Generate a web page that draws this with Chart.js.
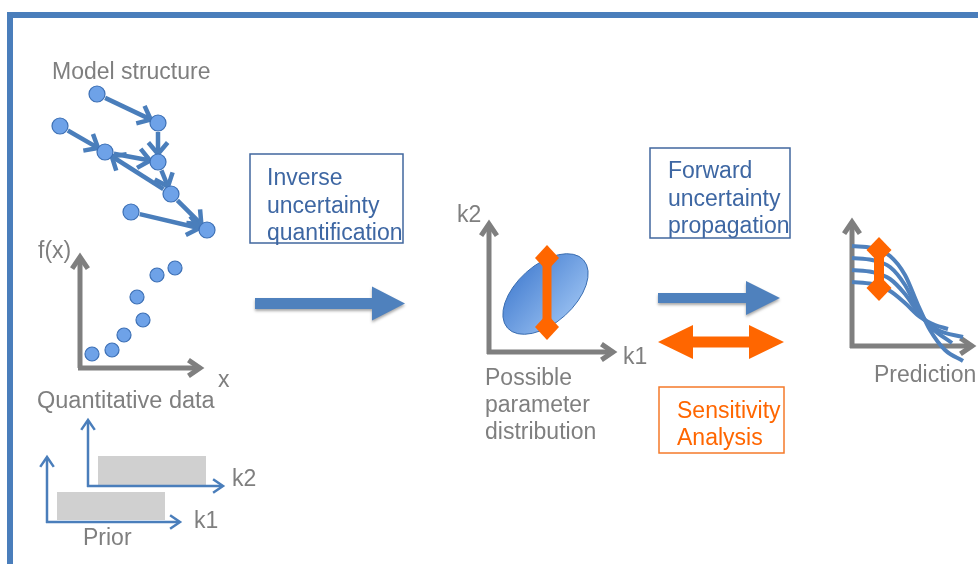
<!DOCTYPE html>
<html>
<head>
<meta charset="utf-8">
<script src="https://cdn.jsdelivr.net/npm/chart.js@4.4.1/dist/chart.umd.min.js"></script>
<style>
  body { margin: 0; background: #fff; }
  canvas { display: block; }
</style>
</head>
<body>
<canvas id="diagrama" width="978" height="564"></canvas>
<script>
// Dados quantitativos (unidades locais do painel f(x) vs x)
const dadosX = [1.2, 3.2, 4.4, 6.3, 5.7, 7.7, 9.5];
const dadosF = [1.4, 1.8, 3.3, 4.8, 7.1, 9.3, 10.0];

// Estrutura do modelo: nós e ligações (origem -> destino)
const nosX = [97, 158, 60, 105, 158, 171, 131, 207];
const nosY = [94, 123, 126, 152, 162, 194, 212, 230];
const ligacoes = [[0, 1], [1, 4], [2, 3], [3, 4], [4, 5], [5, 3], [5, 7], [6, 7]];

// Curvas de predição (unidades locais)
const predX = [
    [0, 2.0, 3.8, 5.3, 6.6, 7.8, 9.3, 11.1],
    [0, 2.0, 3.8, 5.3, 6.6, 8.0, 10.0],
    [0, 2.0, 3.8, 5.3, 6.8, 8.6, 11.1],
    [0, 2.0, 3.8, 5.3, 6.8, 8.3, 9.6]
];
const predY = [
    [10.0, 9.8, 9.0, 7.1, 4.1, 1.6, -0.4, -1.5],
    [8.8, 8.6, 7.9, 6.1, 3.6, 1.8, 0.3],
    [7.6, 7.4, 6.7, 5.2, 3.1, 1.6, 0.9],
    [6.4, 6.2, 5.5, 4.3, 2.9, 2.1, 1.7]
];

// Quadros dos painéis (origem em px do diagrama, 1 unidade = 10 px)
const quadroDados = { x0: 80, y0: 368, s: 10 };
const quadroPred = { x0: 852, y0: 346, s: 10 };

const paraDiagrama = (q, xs, ys) => xs.map((v, i) => ({ x: q.x0 + v * q.s, y: q.y0 - ys[i] * q.s }));

const AZUL = '#4f81bd';
const AZUL_TXT = '#3e67a3';
const CINZA = '#7f7f7f';
const LARANJA = '#ff6600';
const FONTE = '"Liberation Sans", Arial, sans-serif';

const pontosDados = paraDiagrama(quadroDados, dadosX, dadosF);
const pontosNos = nosX.map((x, i) => ({ x: x, y: nosY[i] }));

const datasets = [
    {
        label: 'Dados',
        data: pontosDados,
        pointRadius: 7,
        pointBackgroundColor: '#6ea2e8',
        pointBorderColor: '#3d70b5',
        pointBorderWidth: 1.2,
        showLine: false
    },
    {
        label: 'Nós',
        data: pontosNos,
        pointRadius: 8,
        pointBackgroundColor: '#6ea2e8',
        pointBorderColor: '#3d70b5',
        pointBorderWidth: 1.2,
        showLine: false
    }
];
predX.forEach((xs, i) => {
    datasets.push({
        label: 'Predição ' + (i + 1),
        data: paraDiagrama(quadroPred, xs, predY[i]),
        showLine: true,
        borderColor: AZUL,
        borderWidth: 4,
        pointRadius: 0,
        cubicInterpolationMode: 'monotone',
        fill: false
    });
});

// Funções auxiliares de desenho
const linhaSeta = (ctx, x1, y1, x2, y2, cor, larg, cab, abre = 0.6) => {
    const ang = Math.atan2(y2 - y1, x2 - x1);
    ctx.save();
    ctx.strokeStyle = cor;
    ctx.lineWidth = larg;
    ctx.lineCap = 'butt';
    ctx.lineJoin = 'miter';
    ctx.beginPath();
    ctx.moveTo(x1, y1);
    ctx.lineTo(x2 - Math.cos(ang) * larg * 0.6, y2 - Math.sin(ang) * larg * 0.6);
    ctx.stroke();
    ctx.beginPath();
    ctx.moveTo(x2 - cab * Math.cos(ang - abre), y2 - cab * Math.sin(ang - abre));
    ctx.lineTo(x2, y2);
    ctx.lineTo(x2 - cab * Math.cos(ang + abre), y2 - cab * Math.sin(ang + abre));
    ctx.stroke();
    ctx.restore();
};

const setaCheia = (ctx, x1, y1, x2, y2, cor, larg, cab) => {
    // seta de bloco com ponta triangular (seguindo o eixo x)
    ctx.save();
    ctx.fillStyle = cor;
    ctx.shadowColor = 'rgba(0,0,0,0.35)';
    ctx.shadowBlur = 3;
    ctx.shadowOffsetY = 2;
    const yc = (y1 + y2) / 2;
    ctx.beginPath();
    ctx.moveTo(x1, yc - larg / 2);
    ctx.lineTo(x2 - cab.comp, yc - larg / 2);
    ctx.lineTo(x2 - cab.comp, yc - cab.meia);
    ctx.lineTo(x2, yc);
    ctx.lineTo(x2 - cab.comp, yc + cab.meia);
    ctx.lineTo(x2 - cab.comp, yc + larg / 2);
    ctx.lineTo(x1, yc + larg / 2);
    ctx.closePath();
    ctx.fill();
    ctx.restore();
};

const setaDupla = (ctx, x1, x2, yc, cor, larg, cab) => {
    ctx.save();
    ctx.fillStyle = cor;
    ctx.beginPath();
    ctx.moveTo(x1, yc);
    ctx.lineTo(x1 + cab.comp, yc - cab.meia);
    ctx.lineTo(x1 + cab.comp, yc - larg / 2);
    ctx.lineTo(x2 - cab.comp, yc - larg / 2);
    ctx.lineTo(x2 - cab.comp, yc - cab.meia);
    ctx.lineTo(x2, yc);
    ctx.lineTo(x2 - cab.comp, yc + cab.meia);
    ctx.lineTo(x2 - cab.comp, yc + larg / 2);
    ctx.lineTo(x1 + cab.comp, yc + larg / 2);
    ctx.lineTo(x1 + cab.comp, yc + cab.meia);
    ctx.closePath();
    ctx.fill();
    ctx.restore();
};

const barraLosangos = (ctx, x, yTopo, yBase, mw, mh, larg) => {
    ctx.save();
    ctx.strokeStyle = LARANJA;
    ctx.fillStyle = LARANJA;
    ctx.lineWidth = larg;
    ctx.beginPath();
    ctx.moveTo(x, yTopo);
    ctx.lineTo(x, yBase);
    ctx.stroke();
    [yTopo, yBase].forEach((y) => {
        ctx.beginPath();
        ctx.moveTo(x, y - mh);
        ctx.lineTo(x + mw, y);
        ctx.lineTo(x, y + mh);
        ctx.lineTo(x - mw, y);
        ctx.closePath();
        ctx.fill();
    });
    ctx.restore();
};

const texto = (ctx, linhas, x, y0, passo, cor, tam) => {
    ctx.save();
    ctx.fillStyle = cor;
    ctx.font = tam + 'px ' + FONTE;
    ctx.textBaseline = 'alphabetic';
    ctx.textAlign = 'left';
    linhas.forEach((l, i) => ctx.fillText(l, x, y0 + i * passo));
    ctx.restore();
};

const caixa = (ctx, x1, y1, x2, y2, cor) => {
    ctx.save();
    ctx.strokeStyle = cor;
    ctx.lineWidth = 1.5;
    ctx.strokeRect(x1, y1, x2 - x1, y2 - y1);
    ctx.restore();
};

const fundoDiagrama = {
    id: 'fundoDiagrama',
    beforeDatasetsDraw(chart) {
        const ctx = chart.ctx;
        const sx = chart.scales.x, sy = chart.scales.y;
        const px = (v) => sx.getPixelForValue(v);
        const py = (v) => sy.getPixelForValue(v);

        // moldura
        ctx.save();
        ctx.strokeStyle = '#4a7ebb';
        ctx.lineWidth = 6;
        ctx.strokeRect(px(10), py(15), 1000, 600);
        ctx.restore();

        // estrutura do modelo
        texto(ctx, ['Model structure'], px(52), py(79), 0, CINZA, 23);
        ligacoes.forEach(([a, b]) => {
            const x1 = px(nosX[a]), y1 = py(nosY[a]);
            const x2 = px(nosX[b]), y2 = py(nosY[b]);
            const d = Math.hypot(x2 - x1, y2 - y1);
            const ux = (x2 - x1) / d, uy = (y2 - y1) / d;
            linhaSeta(ctx, x1 + ux * 9, y1 + uy * 9, x2 - ux * 8, y2 - uy * 8, '#4a7ebb', 4.5, 15, 0.7);
        });

        // painel de dados quantitativos
        linhaSeta(ctx, px(80), py(368), px(80), py(257), CINZA, 5, 14);
        linhaSeta(ctx, px(78), py(368), px(200), py(368), CINZA, 5, 14);
        texto(ctx, ['f(x)'], px(38), py(258), 0, CINZA, 23);
        texto(ctx, ['x'], px(218), py(387), 0, CINZA, 23);
        texto(ctx, ['Quantitative data'], px(37), py(408), 0, CINZA, 23.5);

        // priori
        ctx.save();
        ctx.fillStyle = '#d0d0d0';
        ctx.fillRect(px(98), py(456), 108, 29);
        ctx.fillRect(px(57), py(492), 108, 28);
        ctx.restore();
        linhaSeta(ctx, px(88), py(487), px(88), py(420), '#4a7ebb', 2.5, 12);
        linhaSeta(ctx, px(87), py(486), px(223), py(486), '#4a7ebb', 2.5, 12);
        linhaSeta(ctx, px(47), py(523), px(47), py(457), '#4a7ebb', 2.5, 12);
        linhaSeta(ctx, px(46), py(522), px(180), py(522), '#4a7ebb', 2.5, 12);
        texto(ctx, ['k2'], px(232), py(486), 0, CINZA, 23);
        texto(ctx, ['k1'], px(194), py(528), 0, CINZA, 23);
        texto(ctx, ['Prior'], px(83), py(545), 0, CINZA, 23);

        // quantificação inversa
        caixa(ctx, px(250), py(154), px(403), py(243), '#41679e');
        texto(ctx, ['Inverse', 'uncertainty', 'quantification'], px(267), py(185), 27.5, AZUL_TXT, 23);
        setaCheia(ctx, px(255), py(287), px(405), py(320), AZUL, 11, { comp: 33, meia: 17 });

        // distribuição de parâmetros
        linhaSeta(ctx, px(489), py(354), px(489), py(224), CINZA, 5, 14);
        linhaSeta(ctx, px(487), py(352), px(613), py(352), CINZA, 5, 14);
        texto(ctx, ['k2'], px(457), py(222), 0, CINZA, 23);
        texto(ctx, ['k1'], px(623), py(364), 0, CINZA, 23);
        ctx.save();
        const grad = ctx.createLinearGradient(px(508), py(262), px(584), py(328));
        grad.addColorStop(0, '#3c77cd');
        grad.addColorStop(1, '#a8ccf7');
        ctx.fillStyle = grad;
        ctx.strokeStyle = '#3a6db0';
        ctx.lineWidth = 1;
        ctx.beginPath();
        ctx.ellipse(px(545.5), py(294), 51, 29, -0.73, 0, Math.PI * 2);
        ctx.fill();
        ctx.stroke();
        ctx.restore();
        texto(ctx, ['Possible', 'parameter', 'distribution'], px(485), py(385), 27, CINZA, 23);

        // propagação direta e sensibilidade
        caixa(ctx, px(650), py(148), px(790), py(238), '#41679e');
        texto(ctx, ['Forward', 'uncertainty', 'propagation'], px(668), py(178), 27.5, AZUL_TXT, 23);
        setaCheia(ctx, px(658), py(281), px(780), py(315), AZUL, 10, { comp: 34, meia: 17 });
        setaDupla(ctx, px(658), px(784), py(342), LARANJA, 11, { comp: 35, meia: 17 });
        caixa(ctx, px(659), py(387), px(784), py(453), '#f57a2a');
        texto(ctx, ['Sensitivity', 'Analysis'], px(677), py(418), 27, LARANJA, 23);

        // predição
        linhaSeta(ctx, px(852), py(348), px(852), py(222), CINZA, 5, 14);
        linhaSeta(ctx, px(850), py(346), px(972), py(346), CINZA, 5, 14);
        texto(ctx, ['Prediction'], px(874), py(382), 0, CINZA, 23);
    },
    afterDatasetsDraw(chart) {
        const ctx = chart.ctx;
        const px = (v) => chart.scales.x.getPixelForValue(v);
        const py = (v) => chart.scales.y.getPixelForValue(v);
        barraLosangos(ctx, px(547), py(258), py(327), 12, 13, 9);
        barraLosangos(ctx, px(879), py(250), py(288), 12.5, 13, 10);
    }
};

const ctxDiagrama = document.getElementById('diagrama').getContext('2d');
const diagrama = new Chart(ctxDiagrama, {
    type: 'scatter',
    data: { datasets: datasets },
    options: {
        responsive: false,
        animation: false,
        layout: { padding: 0, autoPadding: false },
        scales: {
            x: { type: 'linear', min: 0, max: 978, display: false },
            y: { type: 'linear', min: 0, max: 564, reverse: true, display: false }
        },
        plugins: {
            legend: { display: false },
            tooltip: { enabled: false }
        }
    },
    plugins: [fundoDiagrama]
});
</script>
</body>
</html>
